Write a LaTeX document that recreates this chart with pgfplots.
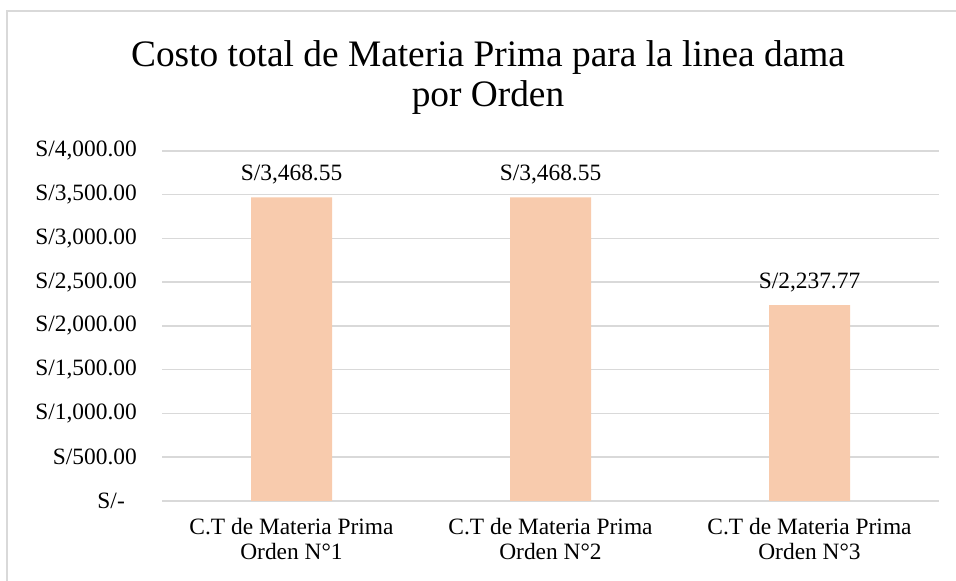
\documentclass[border=0pt]{standalone}
\usepackage{pgfplots}
\pgfplotsset{compat=1.18}
\usepackage{fontspec}
\setmainfont{Liberation Serif}
\definecolor{barc}{HTML}{F8CBAD}
\definecolor{gridc}{HTML}{D9D9D9}
\begin{document}
\begin{tikzpicture}[x=1bp,y=1bp]
\useasboundingbox (0,0) rectangle (956,581);
\fill[white] (0,0) rectangle (956,581);
\draw[gridc, line width=1.5bp] (7,-10) -- (7,570) -- (970,570);
\node[font=\rmfamily\fontsize{37.5}{40}\selectfont, anchor=base, inner sep=0pt] at (488,514) {Costo total de Materia Prima para la linea dama};
\node[font=\rmfamily\fontsize{37.5}{40}\selectfont, anchor=base, inner sep=0pt] at (488,474) {por Orden};
\begin{axis}[
  at={(162bp,80bp)}, anchor=south west,
  scale only axis, width=777bp, height=350bp,
  xmin=-0.5, xmax=2.5, ymin=0, ymax=4000,
  ytick={0,500,1000,1500,2000,2500,3000,3500,4000},
  yticklabels={{S/-\kern12bp\relax},S/500.00,{S/1,000.00},{S/1,500.00},{S/2,000.00},{S/2,500.00},{S/3,000.00},{S/3,500.00},{S/4,000.00}},
  xtick={0,1,2},
  xticklabels={{C.T de Materia Prima\\Orden N°1},{C.T de Materia Prima\\Orden N°2},{C.T de Materia Prima\\Orden N°3}},
  xticklabel style={align=center, font=\rmfamily\fontsize{23.5}{25}\selectfont, inner sep=0pt, yshift=-17bp},
  yticklabel style={font=\rmfamily\fontsize{23.5}{28}\selectfont, inner sep=0pt, anchor=east, xshift=-25bp},
  axis line style={draw=none},
  major tick length=0pt,
  ymajorgrids, grid style={gridc, line width=1.5bp},
  ybar, bar width=81bp,
  nodes near coords, point meta=explicit symbolic,
  every node near coord/.append style={font=\rmfamily\fontsize{23.5}{28}\selectfont, inner sep=0pt, yshift=13bp, black},
]
\addplot[fill=barc, draw=none] coordinates {(0,3468.55) [{S/3,468.55}] (1,3468.55) [{S/3,468.55}] (2,2237.77) [{S/2,237.77}]};
\end{axis}
\end{tikzpicture}
\end{document}
